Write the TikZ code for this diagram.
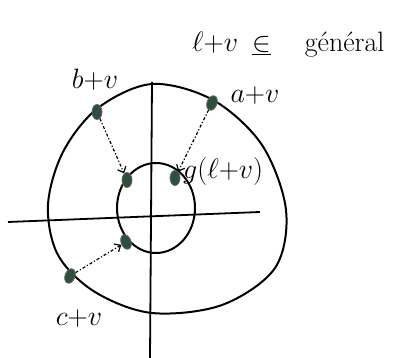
\RequirePackage{fix-cm}
\documentclass[tikz,border=0pt]{standalone}
\usepackage{tikz}
\usetikzlibrary{arrows.meta, positioning, shapes.geometric}
\definecolor{inkgreen}{RGB}{45,80,60}

\tikzset{
  dot/.style={ellipse, fill=inkgreen, draw=black!60, line width=0.8pt, inner sep=0pt,
    minimum width=10pt, minimum height=15pt},
  lbl/.style={font=\fontsize{28}{30}\selectfont, inner sep=0pt},
  map/.style={line width=1.2pt, dash dot, -{Straight Barb[length=5pt, width=9pt]}}
}

\begin{document}
\begin{tikzpicture}[x=1pt, y=-1pt]
\useasboundingbox (0,0) rectangle (404,358);

% axes
\draw [line width=1.8pt] (8,222) -- (260,212);
\draw [line width=1.8pt] (152,82) -- (150,358);

% outer curve
\draw [line width=2pt] plot [smooth cycle, tension=0.55] coordinates {
  (152,84) (213,100) (262,145) (286,210) (275,268) (222,305) (152,313)
  (95,292) (58,255) (48,205) (63,152) (98,108)};

% inner circle
\draw [line width=2pt] (156,208) ellipse [x radius=39, y radius=45];

% points
\node [dot] (bv) at (97,112) {};
\node [dot, rotate=-20] (av) at (212,103) {};
\node [dot, rotate=-20] (cv) at (70,276) {};
\node [dot] (gb) at (127,180) {};
\node [dot] (ga) at (175,178) {};
\node [dot, rotate=20] (gc) at (126,242) {};

% labels
\node [lbl] (bvl) at (95,80) {$b{+}v$};
\node [lbl] (avl) at (255,96) {$a{+}v$};
\node [lbl] (cvl) at (79,318) {$c{+}v$};
\node [lbl, anchor=west] (gl) at (183,172) {$g(\ell{+}v)$};
\node [lbl, anchor=west] (top) at (192,45) {$\ell{+}v$\enspace$\underline{\in}$\hspace{34pt}général};

% maps
\draw [map] (bv) -- (gb);
\draw [map] (av) -- (ga);
\draw [map] (cv) -- (gc);

\end{tikzpicture}
\end{document}
